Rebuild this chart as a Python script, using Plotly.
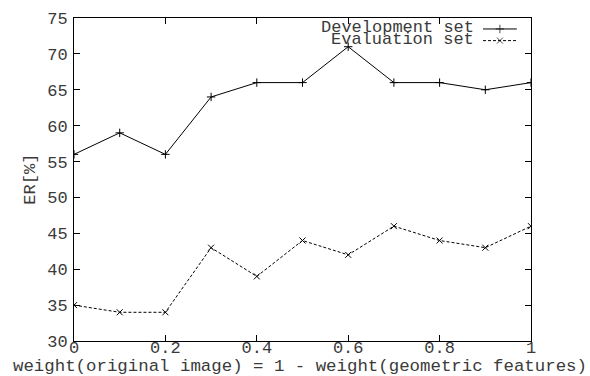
import plotly.graph_objects as go

weights = [0, 0.1, 0.2, 0.3, 0.4, 0.5, 0.6, 0.7, 0.8, 0.9, 1.0]
dev_er = [56, 59, 56, 64, 66, 66, 71, 66, 66, 65, 66]
eval_er = [35, 34, 34, 43, 39, 44, 42, 46, 44, 43, 46]
x_ticks = [0, 0.2, 0.4, 0.6, 0.8, 1]
x_ticklabels = ["0", "0.2", "0.4", "0.6", "0.8", "1"]
y_ticks = [30, 35, 40, 45, 50, 55, 60, 65, 70, 75]
series_names = ["Development set", "Evaluation set"]
x_title = "weight(original image) = 1 - weight(geometric features)"
y_title = "ER[%]"

FONT = "Liberation Mono"
FS = 17
TXT = "#3a3a3a"

fig = go.Figure()
fig.add_trace(go.Scatter(x=weights, y=dev_er, mode="lines+markers",
                         line=dict(color="black", width=1),
                         marker=dict(symbol="cross-thin", size=6, line=dict(color="black", width=1)),
                         showlegend=False))
fig.add_trace(go.Scatter(x=weights, y=eval_er, mode="lines+markers",
                         line=dict(color="black", width=1, dash="3px,2px"),
                         marker=dict(symbol="x-thin", size=6, line=dict(color="black", width=1)),
                         showlegend=False))

# legend samples (gnuplot style: text on the left, sample line on the right)
leg_y = [0.970, 0.934]
for i, (name, sty) in enumerate(zip(series_names, ["solid", "3px,2px"])):
    sym = "cross-thin" if i == 0 else "x-thin"
    fig.add_trace(go.Scatter(x=[0.895, 0.932, 0.969], y=[leg_y[i] - 0.004] * 3, xaxis="x2", yaxis="y2",
                             mode="lines+markers",
                             line=dict(color="black", width=1, dash=sty),
                             marker=dict(symbol=sym, size=[0, 6, 0], line=dict(color="black", width=1)),
                             showlegend=False, hoverinfo="skip"))
    fig.add_annotation(text=name, xref="paper", yref="paper", x=0.878, y=leg_y[i],
                       xanchor="right", yanchor="middle", showarrow=False, borderpad=0,
                       font=dict(family=FONT, size=FS, color=TXT))

# axis titles as annotations
fig.add_annotation(text=x_title, xref="paper", yref="paper", x=0.494, y=-0.0775,
                   xanchor="center", yanchor="middle", showarrow=False, borderpad=0,
                   font=dict(family=FONT, size=17.4, color=TXT))
fig.add_annotation(text=y_title, xref="paper", yref="paper", x=-0.096, y=0.5,
                   xanchor="center", yanchor="middle", showarrow=False, textangle=-90, borderpad=0,
                   font=dict(family=FONT, size=FS, color=TXT))

fig.update_layout(
    width=590, height=376,
    margin=dict(l=74, r=59, t=18, b=35, autoexpand=False),
    paper_bgcolor="white", plot_bgcolor="white",
    font=dict(family=FONT, size=FS, color=TXT),
    xaxis=dict(range=[0, 1], tickvals=x_ticks, ticktext=x_ticklabels,
               ticks="inside", ticklen=6, tickcolor="black", showgrid=False, zeroline=False,
               showline=True, linecolor="black", linewidth=1, mirror="ticks",
               automargin=False, ticklabelstandoff=-9,
               tickfont=dict(family=FONT, size=FS, color=TXT)),
    yaxis=dict(range=[30, 75], tickvals=y_ticks,
               ticks="inside", ticklen=6, tickcolor="black", showgrid=False, zeroline=False,
               showline=True, linecolor="black", linewidth=1, mirror="ticks",
               automargin=False, ticklabelstandoff=2,
               tickfont=dict(family=FONT, size=FS, color=TXT)),
    xaxis2=dict(range=[0, 1], overlaying="x", visible=False, fixedrange=True),
    yaxis2=dict(range=[0, 1], overlaying="y", visible=False, fixedrange=True),
)

fig.write_html("out.html", config={"displayModeBar": False},
               post_script="document.body.style.margin='0';")
